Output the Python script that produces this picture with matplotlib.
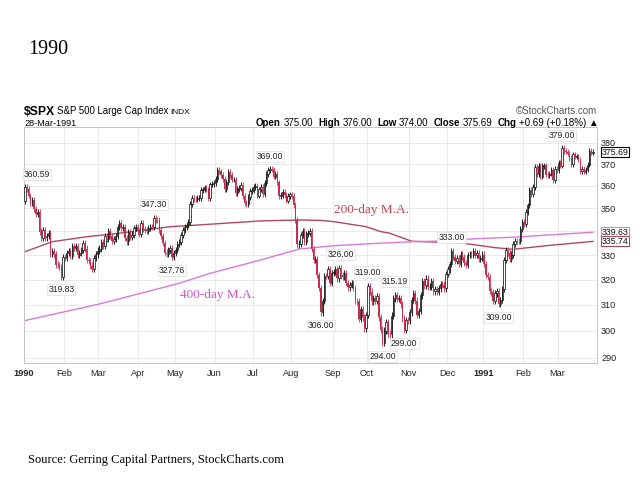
#%% Import Libraries
import numpy as np
import matplotlib
matplotlib.use('Agg')
import matplotlib.pyplot as plt
from matplotlib.ticker import NullLocator
from matplotlib.transforms import blended_transform_factory

plt.rcParams['font.family'] = ['Liberation Sans', 'DejaVu Sans']

#%% Data: daily closes of $SPX, one list per month of trading days
jan90 = [359.69, 358.76, 355.67, 352.20, 353.79, 349.62, 347.31, 348.53, 339.93, 337.00, 340.75,
         337.40, 338.19, 339.15, 330.38, 331.61, 330.26, 326.08, 325.80, 325.20, 321.10, 329.08]
feb90 = [328.79, 330.92, 331.85, 329.66, 333.75, 332.96, 333.62, 330.08, 331.02, 332.01, 334.89,
         332.72, 327.99, 327.67, 325.70, 324.15, 328.67, 330.26, 331.89]
mar90 = [332.74, 335.54, 333.74, 337.93, 336.95, 340.27, 337.93, 336.00, 336.87, 338.07, 341.91,
         343.53, 341.57, 341.76, 337.22, 335.69, 339.74, 337.63, 338.65, 341.50, 342.00, 339.94]
apr90 = [338.70, 343.64, 341.09, 340.73, 340.08, 341.37, 342.07, 341.92, 345.90, 344.74, 344.68,
         340.72, 338.09, 335.12, 331.05, 330.36, 332.03, 332.92, 329.11, 330.80]
may90 = [332.25, 334.48, 335.57, 338.39, 340.53, 342.01, 342.86, 343.82, 352.00, 354.75, 354.28,
         354.00, 354.47, 354.64, 358.00, 358.43, 359.29, 358.41, 354.58, 360.65, 360.86, 361.23]
jun90 = [363.16, 367.40, 366.64, 364.96, 363.15, 358.71, 361.63, 366.25, 364.90, 362.90, 362.91,
         356.88, 358.47, 359.10, 360.47, 355.43, 352.31, 352.06, 355.14, 357.64, 358.02]
jul90 = [359.54, 360.16, 355.68, 358.42, 359.52, 356.49, 361.23, 365.44, 367.31, 367.90, 367.52,
         364.22, 365.32, 361.61, 355.31, 355.79, 357.09, 355.91, 353.44, 355.52, 356.15]
aug90 = [355.52, 351.48, 344.86, 334.43, 334.83, 338.35, 339.94, 335.52, 338.84, 339.39, 340.06,
         332.39, 327.83, 328.51, 321.86, 316.55, 307.06, 311.51, 321.44, 321.34, 324.19, 318.71, 322.56]
sep90 = [323.09, 324.39, 320.46, 324.70, 321.63, 321.04, 322.54, 318.65, 316.83, 317.77, 318.60,
         316.60, 311.48, 311.32, 304.59, 308.26, 305.06, 300.97, 306.05]
oct90 = [317.50, 315.21, 311.40, 312.69, 311.50, 313.48, 305.10, 300.39, 295.46, 300.03, 303.23,
         298.92, 298.76, 305.74, 312.48, 313.90, 312.36, 312.60, 310.17, 304.71, 300.30, 304.06, 304.00]
nov90 = [307.02, 311.85, 314.59, 311.62, 306.01, 307.61, 313.74, 319.48, 317.67, 320.40, 317.02,
         317.12, 319.34, 315.31, 316.03, 315.10, 316.51, 318.10, 317.95, 316.42, 322.22]
dec90 = [324.10, 326.35, 331.70, 329.07, 327.75, 328.89, 326.44, 330.19, 329.34, 326.82, 326.02,
         330.05, 330.20, 330.12, 331.75, 329.90, 330.85, 328.29, 328.72, 330.22]
jan91 = [326.45, 321.91, 321.00, 315.44, 314.90, 311.49, 314.53, 315.23, 310.30, 311.90, 316.17,
         327.97, 332.23, 331.06, 328.31, 330.21, 334.78, 336.07, 336.03, 335.84, 340.91, 343.93]
feb91 = [343.05, 348.34, 351.26, 358.07, 356.52, 359.35, 368.58, 365.50, 369.02, 364.22, 369.06,
         369.39, 365.14, 364.97, 365.65, 367.26, 362.81, 367.74, 367.07]
mar91 = [370.47, 369.33, 377.70, 376.17, 375.91, 374.95, 372.96, 370.03, 374.57, 373.50, 373.59,
         372.11, 366.59, 367.92, 366.58, 367.48, 369.83, 376.30, 375.35, 375.69]

month_lists = [jan90, feb90, mar90, apr90, may90, jun90, jul90, aug90, sep90, oct90, nov90, dec90,
               jan91, feb91, mar91]
month_labels = ['1990', 'Feb', 'Mar', 'Apr', 'May', 'Jun', 'Jul', 'Aug', 'Sep', 'Oct', 'Nov', 'Dec',
                '1991', 'Feb', 'Mar']
first_open = 353.40

# moving averages (trading-day index, value)
ma200_days = [0, 15, 34, 52, 80, 91, 130, 152, 163, 170, 188, 196, 201, 213, 241, 259, 269, 287, 313]
ma200_vals = [331.4, 335.6, 337.7, 339.2, 342.0, 342.5, 344.5, 344.9, 344.7, 344.2, 342.0, 339.9,
              339.2, 335.8, 335.0, 333.1, 332.4, 333.9, 335.74]
ma400_days = [0, 41, 85, 102, 130, 151, 170, 196, 214, 234, 241, 269, 313]
ma400_vals = [303.9, 310.3, 318.5, 322.5, 328.0, 332.5, 333.9, 335.0, 335.6, 336.0, 336.6, 337.5,
              339.63]

# labelled highs and lows
ann_days = [1, 20, 71, 81, 135, 163, 174, 189, 204, 197, 209, 235, 261, 296]
ann_labels = ['360.59', '319.83', '347.30', '327.76', '369.00', '306.00', '326.00', '319.00',
              '315.19', '294.00', '299.00', '333.00', '309.00', '379.00']
ann_above = [1, 0, 1, 0, 1, 0, 1, 1, 1, 0, 0, 1, 0, 1]

quote_parts = [('Open', 'bold'), ('375.00', 'normal'), ('High', 'bold'), ('376.00', 'normal'),
               ('Low', 'bold'), ('374.00', 'normal'), ('Close', 'bold'), ('375.69', 'normal'),
               ('Chg', 'bold'), ('+0.69 (+0.18%) \u25b2', 'normal')]

#%% Build the candles
close = np.array([c for m in month_lists for c in m])
opens = np.r_[first_open, close[:-1]]
wick = 1.3
high = np.maximum(opens, close) + wick
low = np.minimum(opens, close) - wick
days = np.arange(len(close))
month_start = np.cumsum([0] + [len(m) for m in month_lists[:-1]])

red = '#cc2a4c'
col200 = '#b0485e'
col400 = '#dc78dc'
up = close >= opens
colors = np.where(up, 'black', red)

fig = plt.figure(figsize=(6.4, 4.8), dpi=100)
ax = fig.add_axes([24/640, 1 - 363/480, 573/640, 236/480])
ax.set_yscale('log')

ax.vlines(days, low, high, colors=colors, lw=0.6, zorder=3)
ax.bar(days[up], (close - opens)[up], bottom=opens[up], width=0.75,
       facecolor='white', edgecolor='black', lw=0.5, zorder=4)
ax.bar(days[~up], (opens - close)[~up], bottom=close[~up], width=0.8,
       color=red, lw=0, zorder=4)

ax.plot(ma200_days, ma200_vals, color=col200, lw=1.0, zorder=2)
ax.plot(ma400_days, ma400_vals, color=col400, lw=1.0, zorder=2)

for d, s, a in zip(ann_days, ann_labels, ann_above):
    ha = 'left' if d < 5 else 'center'
    ax.annotate(s, xy=(d, float(s)), xytext=(-3 if d < 5 else 0, 10 if a else -10),
                textcoords='offset pixels', ha=ha, va='center', fontsize=6.2, color='#222222',
                bbox=dict(boxstyle='square,pad=0.12', fc='white', ec='#dddddd', lw=0.5), zorder=6)

ax.text(170, 349.3, '200-day M.A.', family='Liberation Serif', fontsize=9.5, color='#c8404e',
        va='center')
ax.text(85.4, 313.9, '400-day M.A.', family='Liberation Serif', fontsize=9.5, color='#c456c8',
        va='center')

# axes styling; the 340 label sits under the moving-average tags
ax.set_xlim(-0.55, 315.2)
ax.set_ylim(288.1, 387.7)
yt = list(range(290, 381, 10))
ax.set_yticks(yt)
ax.yaxis.set_minor_locator(NullLocator())
ax.set_yticklabels(['' if v == 340 else str(v) for v in yt])
ax.yaxis.tick_right()
ax.set_xticks(month_start - 0.5)
ax.set_xticklabels(month_labels)
for lab in ax.get_xticklabels():
    if lab.get_text().startswith('19'):
        lab.set_fontweight('bold')
ax.tick_params(axis='y', length=0, pad=3, labelsize=6.6, labelcolor='#222222')
ax.tick_params(axis='x', length=0, pad=4, labelsize=6.6, labelcolor='#222222')
ax.grid(True, color='#e6e6e6', lw=0.6)
ax.set_axisbelow(True)
for sp in ax.spines.values():
    sp.set_color('#c4c4c4')
    sp.set_linewidth(0.7)

# value tags on the right
trans = blended_transform_factory(ax.transAxes, ax.transData)
for v, ec in [(close[-1], 'black'), (ma400_vals[-1], col400), (ma200_vals[-1], col200)]:
    ax.annotate('%.2f' % v, xy=(1, v), xycoords=trans, xytext=(5, 0), textcoords='offset pixels',
                ha='left', va='center', fontsize=6.3, color='#111111', annotation_clip=False,
                bbox=dict(boxstyle='square,pad=0.06', fc='white', ec=ec, lw=0.8), zorder=7)

#%% Header, title and source
fig.text(28/640, 1 - 50/480, '1990', family='Liberation Serif', fontsize=14.5, va='center')
fig.text(24/640, 1 - 115/480, '$SPX', fontsize=8.8, weight='bold', va='baseline')
fig.text(57/640, 1 - 114.5/480, 'S&P 500 Large Cap Index', fontsize=6.9, va='baseline')
fig.text(170/640, 1 - 114.5/480, 'INDX', fontsize=6, va='baseline')
fig.text(24/640, 1 - 126/480, '28-Mar-1991', fontsize=6.6, va='baseline')
fig.text(597/640, 1 - 114/480, '\u00a9StockCharts.com', fontsize=7, color='#555555',
         ha='right', va='baseline')
fig.text(28/640, 1 - 460/480, 'Source: Gerring Capital Partners, StockCharts.com',
         family='Liberation Serif', fontsize=9, va='center')

fig.canvas.draw()
renderer = fig.canvas.get_renderer()
x = 256
for s, w in quote_parts:
    t = fig.text(x/640, 1 - 126/480, s, fontsize=7, weight=w, va='baseline')
    x = t.get_window_extent(renderer).x1 + (2.6 if w == 'bold' else 5)

plt.savefig('out.png', dpi=100)
